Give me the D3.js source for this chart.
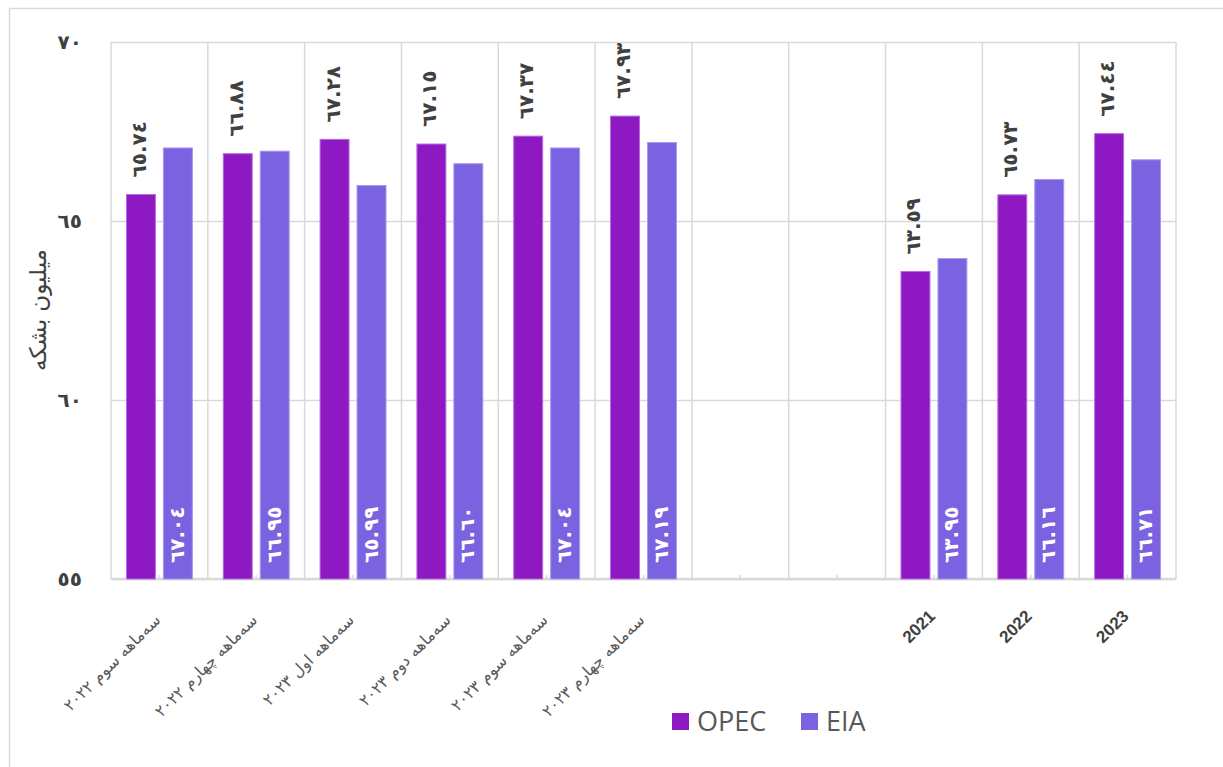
<!DOCTYPE html>
<html>
<head>
<meta charset="utf-8">
<script src="https://cdn.jsdelivr.net/npm/d3@7"></script>
<style>
  html, body { margin: 0; padding: 0; background: #ffffff; }
  svg { display: block; }
</style>
</head>
<body>
<svg id="chart" width="1223" height="767"></svg>
<script>
// ---- data ----
const categories = [
  "سه‌ماهه سوم ۲۰۲۲",
  "سه‌ماهه چهارم ۲۰۲۲",
  "سه‌ماهه اول ۲۰۲۳",
  "سه‌ماهه دوم ۲۰۲۳",
  "سه‌ماهه سوم ۲۰۲۳",
  "سه‌ماهه چهارم ۲۰۲۳",
  "",
  "",
  "2021",
  "2022",
  "2023"
];
const opecValues = [65.74, 66.88, 67.28, 67.15, 67.37, 67.93, null, null, 63.59, 65.73, 67.44];
const eiaValues  = [67.04, 66.95, 65.99, 66.60, 67.04, 67.19, null, null, 63.95, 66.16, 66.71];
const seriesNames = ["OPEC", "EIA"];
const yTicks = [55, 60, 65, 70];
const yTitle = "میلیون بشکه";

// ---- helpers ----
const arDigits = "٠١٢٣٤٥٦٧٨٩";
const toAr = s => String(s).replace(/[0-9]/g, d => arDigits[+d]);
const colors = { OPEC: "#8E19C2", EIA: "#7B62E0" };
const strokes = { OPEC: "#B56AE0", EIA: "#A797F0" };

const svg = d3.select("#chart");
const plot = { left: 111, right: 1176, top: 42, bottom: 579 };

// outer chart border (only top/left visible)
svg.append("rect")
  .attr("x", 9.5).attr("y", 8.5).attr("width", 2000).attr("height", 2000)
  .attr("fill", "none").attr("stroke", "#d9d9d9").attr("stroke-width", 1.5);

const idx = d3.range(categories.length);
const x = d3.scaleBand().domain(idx).range([plot.left, plot.right]).paddingInner(0).paddingOuter(0);
const xs = d3.scaleBand().domain(seriesNames).range([0, x.bandwidth()]).paddingInner(0.19).paddingOuter(0.405);
const y = d3.scaleLinear().domain([55, 70]).range([plot.bottom, plot.top]);

// horizontal gridlines
const gridY = svg.append("g").attr("transform", `translate(${plot.left},0)`)
  .call(d3.axisLeft(y).tickValues(yTicks).tickSize(-(plot.right - plot.left)).tickFormat(""));
gridY.select(".domain").remove();
gridY.selectAll("line").attr("stroke", "#d9d9d9").attr("stroke-width", 1.5);

// vertical gridlines at band boundaries
const bounds = idx.map(i => x(i)).concat([plot.right]);
svg.append("g").selectAll("line").data(bounds).join("line")
  .attr("x1", d => d).attr("x2", d => d)
  .attr("y1", plot.top).attr("y2", plot.bottom)
  .attr("stroke", "#d9d9d9").attr("stroke-width", 1.5);

// x axis baseline
svg.append("line")
  .attr("x1", plot.left).attr("x2", plot.right)
  .attr("y1", plot.bottom).attr("y2", plot.bottom)
  .attr("stroke", "#d9d9d9").attr("stroke-width", 2.5);

// small ticks at category centers
svg.append("g").selectAll("line").data(idx).join("line")
  .attr("x1", i => x(i) + x.bandwidth() / 2).attr("x2", i => x(i) + x.bandwidth() / 2)
  .attr("y1", plot.bottom).attr("y2", plot.bottom - 4)
  .attr("stroke", "#d9d9d9").attr("stroke-width", 1.5);

// y tick labels
const yAxis = svg.append("g").attr("transform", `translate(${plot.left},0)`)
  .call(d3.axisLeft(y).tickValues(yTicks).tickSize(0).tickPadding(29).tickFormat(d => toAr(d)));
yAxis.select(".domain").remove();
yAxis.selectAll("text")
  .attr("fill", "#404040").attr("font-family", "DejaVu Sans").attr("font-weight", "bold")
  .attr("font-size", 20).attr("letter-spacing", 2);

// y title
svg.append("text")
  .attr("transform", "translate(38,310) rotate(-90)")
  .attr("text-anchor", "middle").attr("dy", "0.35em")
  .attr("font-family", "DejaVu Sans").attr("font-size", 23).attr("fill", "#404040")
  .attr("direction", "rtl")
  .text(yTitle);

// bars
const rows = idx.map(i => ({ i, OPEC: opecValues[i], EIA: eiaValues[i] }));
const groups = svg.append("g").selectAll("g").data(rows).join("g")
  .attr("transform", d => `translate(${x(d.i)},0)`);

groups.selectAll("rect").data(d => seriesNames.filter(s => d[s] != null).map(s => ({ s, v: d[s] })))
  .join("rect")
  .attr("x", d => xs(d.s) + 0.5)
  .attr("width", xs.bandwidth() - 1)
  .attr("y", d => y(d.v))
  .attr("height", d => plot.bottom - y(d.v))
  .attr("fill", d => colors[d.s])
  .attr("stroke", d => strokes[d.s]).attr("stroke-width", 1);

// OPEC labels (above bar, rotated)
groups.filter(d => d.OPEC != null).append("text")
  .attr("transform", d => `translate(${xs("OPEC") + xs.bandwidth() / 2 - 2},${y(d.OPEC) - 17}) rotate(-90)`)
  .attr("dy", "0.35em").attr("text-anchor", "start")
  .attr("font-family", "DejaVu Sans").attr("font-weight", "bold").attr("font-size", 20)
  .attr("letter-spacing", 2)
  .attr("fill", "#404040")
  .text(d => toAr(d.OPEC.toFixed(2)));

// EIA labels (inside base, white)
groups.filter(d => d.EIA != null).append("text")
  .attr("transform", d => `translate(${xs("EIA") + xs.bandwidth() / 2 - 1},${plot.bottom - 16}) rotate(-90)`)
  .attr("dy", "0.35em").attr("text-anchor", "start")
  .attr("font-family", "DejaVu Sans").attr("font-weight", "bold").attr("font-size", 20)
  .attr("letter-spacing", 2)
  .attr("fill", "#ffffff")
  .text(d => toAr(d.EIA.toFixed(2)));

// x category labels
const isYear = s => /^[0-9]+$/.test(s);
svg.append("g").selectAll("text").data(idx.filter(i => categories[i] !== "")).join("text")
  .attr("transform", i => {
    const cx = x(i) + x.bandwidth() / 2;
    return isYear(categories[i])
      ? `translate(${cx - 2},${613}) rotate(-45)`
      : `translate(${cx - 2},${617}) rotate(-45)`;
  })
  .attr("text-anchor", "end").attr("dy", "0.35em")
  .attr("font-family", i => isYear(categories[i]) ? "Liberation Sans" : "DejaVu Sans")
  .attr("font-weight", i => isYear(categories[i]) ? "bold" : "normal")
  .attr("font-size", i => isYear(categories[i]) ? 17 : 16)
  .attr("fill", i => isYear(categories[i]) ? "#404040" : "#595959")
  .text(i => categories[i]);

// legend
const legend = svg.append("g");
const legendX = [672, 801];
seriesNames.forEach((s, k) => {
  legend.append("rect").attr("x", legendX[k]).attr("y", 713).attr("width", 17).attr("height", 17)
    .attr("fill", colors[s]);
  legend.append("text").attr("x", legendX[k] + 25).attr("y", 722).attr("dy", "0.35em")
    .attr("font-family", "Open Sans").attr("font-size", 27).attr("fill", "#595959")
    .text(s);
});
</script>
</body>
</html>
